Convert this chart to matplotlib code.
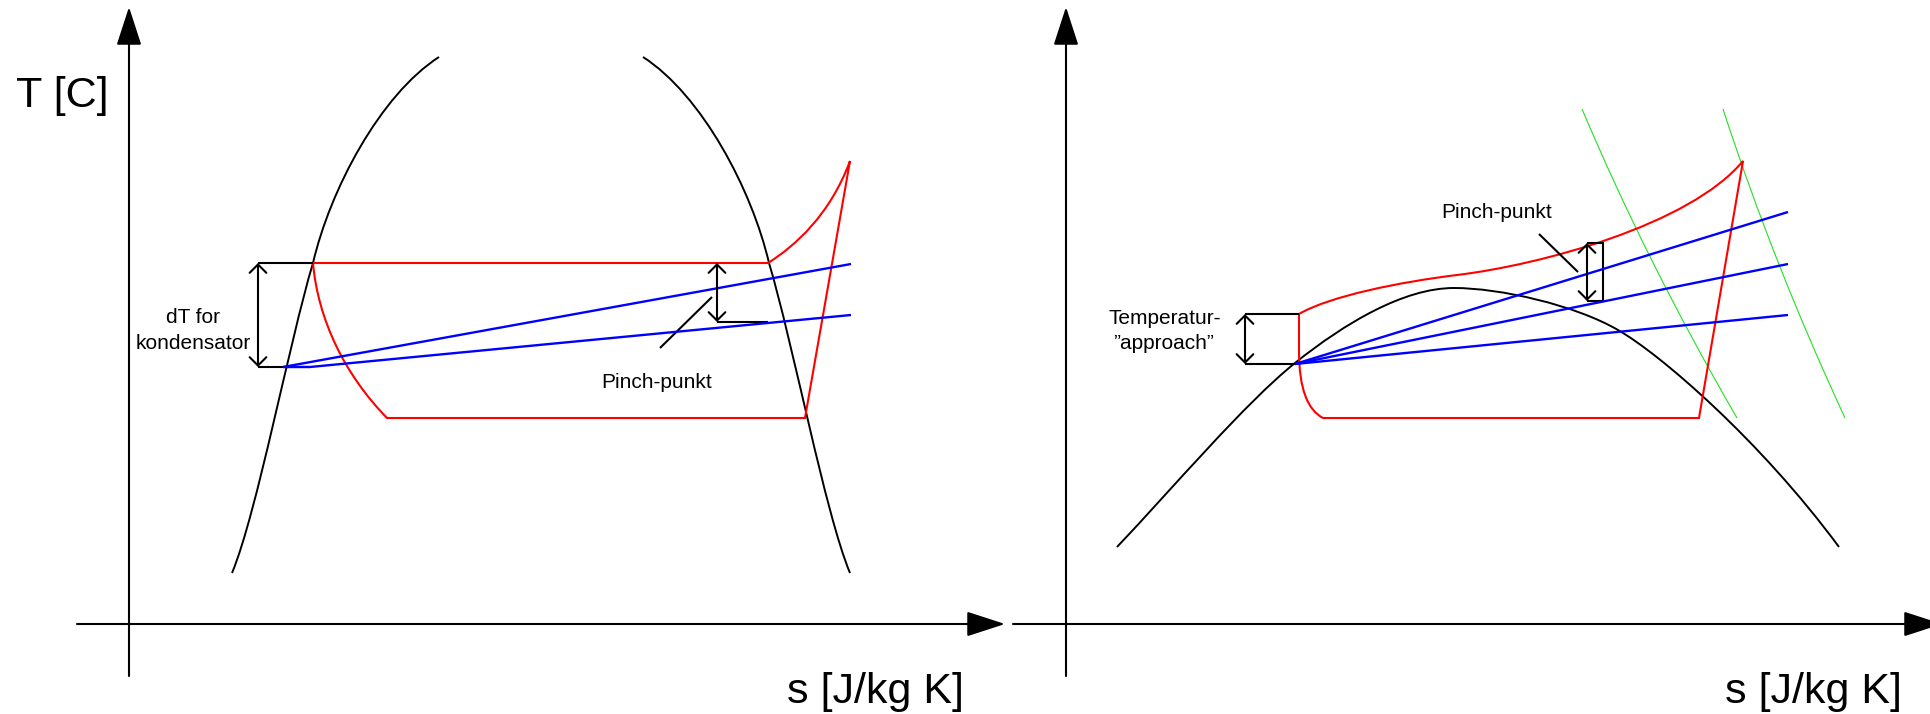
import matplotlib
matplotlib.use("Agg")
import matplotlib.pyplot as plt
from matplotlib.path import Path
from matplotlib.patches import PathPatch

plt.rcParams['font.family'] = ['Liberation Sans', 'DejaVu Sans']

# ---------------------------------------------------------------------------
# Sketch geometry, in canvas pixels (x to the right, y downwards).
# Path specs: M = move, L = line, C = cubic Bezier point, Q = quadratic point,
# Z = close.
# ---------------------------------------------------------------------------

# Left diagram: bell-shaped saturation dome (two branches)
dome1_liquid_spec = "MCCCCCC"
dome1_liquid = [(232, 573), (257, 513), (289, 343), (313, 263),
                (330, 190), (380, 95), (439, 57)]
dome1_vapour_spec = "MCCCCCC"
dome1_vapour = [(850, 573), (825, 513), (793, 343), (769, 263),
                (752, 190), (702, 95), (643, 57)]

# Left diagram: cycle (condensing line, superheat, expansion, evaporation)
cycle1_spec = "MLCCCLLCCCZ"
cycle1 = [(313, 263), (768, 263),
          (795, 246), (830, 215), (850, 161),
          (805, 418), (387, 418),
          (345, 375), (318, 320), (313, 263),
          (313, 263)]

# Left diagram: heat-sink temperature lines
sink1_upper = [(283, 367), (851, 264)]
sink1_lower = [(283, 367), (310, 367), (851, 315)]

# Left diagram: markers
dT1_arrow = (258, 263, 367)            # x, y top, y bottom
dT1_ticks = [[(258, 263), (313, 263)], [(258, 367), (310, 367)]]
pinch1_arrow = (717, 263, 322)
pinch1_ticks = [[(717, 322), (768, 322)]]
pinch1_leader = [(712, 297), (660, 348)]

# Right diagram: saturation dome of a retrograde fluid
dome2_spec = "MCCCCCCCCCCCC"
dome2 = [(1117, 547), (1172, 489), (1245, 403), (1295, 363),
         (1345, 323), (1404, 288), (1454, 288),
         (1500, 288), (1575, 305), (1618, 330),
         (1660, 354), (1760, 440), (1839, 547)]

# Right diagram: supercritical cycle
cycle2_spec = "MCCCCCCLLCCCLZ"
cycle2 = [(1299, 314),
          (1330, 296), (1400, 282), (1457, 275),
          (1540, 265), (1690, 225), (1743, 161),
          (1699, 418), (1323, 418),
          (1308, 410), (1299, 390), (1299, 350),
          (1299, 314), (1299, 314)]

# Right diagram: fan of heat-sink lines from the approach point
sink2_start = (1295, 364)
sink2_ends = [(1788, 212), (1788, 264), (1788, 315)]

# Right diagram: isobars in the superheated region
isobar_spec = "MQQ"
isobars = [[(1582, 109), (1647, 263), (1737, 418)],
           [(1723, 109), (1773, 263), (1845, 418)]]

# Right diagram: markers
approach_arrow = (1245, 314, 364)
approach_ticks = [[(1245, 314), (1299, 314)], [(1245, 364), (1295, 364)]]
pinch2_arrow = (1587, 243, 301)
pinch2_ticks = [[(1587, 243), (1603, 243), (1603, 301), (1587, 301)]]
pinch2_leader = [(1539, 234), (1578, 272)]

# Coordinate axes: (tail, tip)
axes_arrows = [((129, 676), (129, 7)), ((77, 624), (1005, 624)),
               ((1066, 676), (1066, 7)), ((1013, 624), (1942, 624))]

# Labels: text, x, baseline y, alignment
big_labels = [("T [C]", 16, 107, "left"),
              ("s [J/kg K]", 787, 703, "left"),
              ("s [J/kg K]", 1725, 703, "left")]
small_labels = [("dT for", 193, 323, "center"),
                ("kondensator", 193, 349, "center"),
                ("Pinch-punkt", 657, 388, "center"),
                ("Pinch-punkt", 1497, 218, "center"),
                ("Temperatur-", 1165, 324, "center"),
                ("\u201dapproach\u201d", 1164, 349, "center")]

# ---------------------------------------------------------------------------
W, H = 1930, 714
fig = plt.figure(figsize=(W / 100, H / 100), dpi=100)
ax = fig.add_axes([0, 0, 1, 1])
ax.set_xlim(0, W)
ax.set_ylim(H, 0)
ax.axis("off")

CODES = {"M": Path.MOVETO, "L": Path.LINETO, "C": Path.CURVE4,
         "Q": Path.CURVE3, "Z": Path.CLOSEPOLY}

BLACK, RED, BLUE, GREEN = "#000000", "#ff0000", "#0000ff", "#22e022"


def draw_path(spec, pts, color, lw, z=2):
    path = Path(pts, [CODES[c] for c in spec])
    ax.add_patch(PathPatch(path, fill=False, edgecolor=color, lw=lw,
                           capstyle="butt", joinstyle="miter", zorder=z))


def draw_poly(pts, color, lw, z=3):
    xs, ys = zip(*pts)
    ax.plot(xs, ys, color=color, lw=lw, solid_capstyle="butt",
            solid_joinstyle="miter", zorder=z)


def double_arrow(spec):
    x, y0, y1 = spec
    ax.annotate("", xy=(x, y0), xytext=(x, y1), annotation_clip=False,
                arrowprops=dict(arrowstyle="<->,head_length=0.6,head_width=0.6",
                                mutation_scale=10, lw=1.5, color=BLACK,
                                shrinkA=0, shrinkB=0), zorder=5)


# axes
for tail, tip in axes_arrows:
    ax.annotate("", xy=tip, xytext=tail, annotation_clip=False,
                arrowprops=dict(arrowstyle="-|>,head_length=2.4,head_width=0.78",
                                mutation_scale=10, lw=1.5, color=BLACK,
                                shrinkA=0, shrinkB=0), zorder=1)

# left diagram
draw_path(dome1_liquid_spec, dome1_liquid, BLACK, 1.4)
draw_path(dome1_vapour_spec, dome1_vapour, BLACK, 1.4)
draw_path(cycle1_spec, cycle1, RED, 1.5, z=3)
draw_poly(sink1_upper, BLUE, 1.7, z=4)
draw_poly(sink1_lower, BLUE, 1.7, z=4)
for seg in dT1_ticks + pinch1_ticks:
    draw_poly(seg, BLACK, 1.5, z=3.5)
draw_poly(pinch1_leader, BLACK, 1.5)
double_arrow(dT1_arrow)
double_arrow(pinch1_arrow)

# right diagram
draw_path(dome2_spec, dome2, BLACK, 1.4)
for iso in isobars:
    draw_path(isobar_spec, iso, GREEN, 0.8, z=2.5)
draw_path(cycle2_spec, cycle2, RED, 1.5, z=3)
for end in sink2_ends:
    draw_poly([sink2_start, end], BLUE, 1.7, z=4)
for seg in approach_ticks + pinch2_ticks:
    draw_poly(seg, BLACK, 1.5, z=3.5)
draw_poly(pinch2_leader, BLACK, 1.5)
double_arrow(approach_arrow)
double_arrow(pinch2_arrow)

# labels
for text, x, y, ha in big_labels:
    ax.text(x, y, text, fontsize=31, ha=ha, va="baseline", color=BLACK)
for text, x, y, ha in small_labels:
    ax.text(x, y, text, fontsize=15, ha=ha, va="baseline", color=BLACK)

fig.savefig("out.png", dpi=100, facecolor="white")
